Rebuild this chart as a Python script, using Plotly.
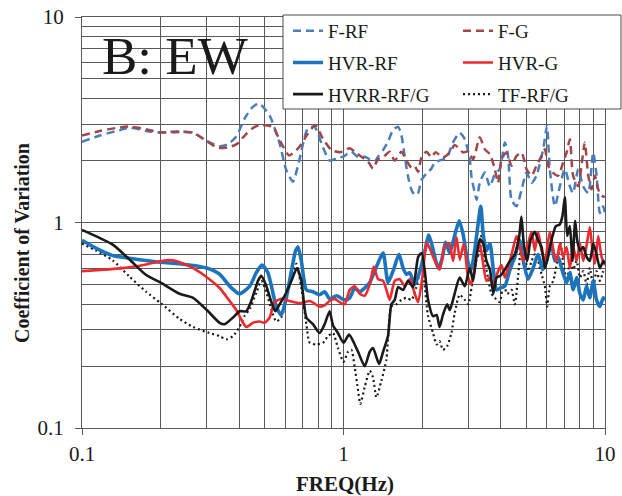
import plotly.graph_objects as go

# ---------------- data ----------------
F_RF_FREQ = [0.1, 0.117, 0.139, 0.152, 0.176, 0.2, 0.236, 0.266, 0.3, 0.336, 0.361, 0.389, 0.419, 0.445, 0.475,
             0.522, 0.57, 0.604, 0.641, 0.677, 0.73, 0.775, 0.834, 0.885, 0.94, 0.996, 1.072, 1.137, 1.205, 1.26,
             1.316, 1.355, 1.417, 1.48, 1.547, 1.617, 1.665, 1.715, 1.766, 1.82, 1.873, 1.928, 1.987, 2.075, 2.17,
             2.23, 2.48, 2.62, 2.78, 2.91, 3.04, 3.09, 3.18, 3.23, 3.32, 3.47, 3.63, 3.79, 3.96, 4.14, 4.26, 4.39,
             4.59, 4.80, 5.01, 5.24, 5.47, 5.80, 6.0, 6.15, 6.43, 6.72, 7.02, 7.34, 7.55, 7.90, 8.25, 8.63, 9.01,
             9.29, 9.56, 9.84, 10.0]
F_RF_CV = [2.47, 2.65, 2.81, 2.90, 2.79, 2.74, 2.78, 2.73, 2.49, 2.35, 2.40, 2.62, 3.21, 3.6, 3.8,
           3.31, 2.42, 1.8, 1.58, 2.0, 2.87, 2.92, 2.33, 2.0, 2.05, 2.09, 2.21, 2.08, 2.09, 2.03,
           1.98, 2.09, 2.25, 2.47, 2.82, 2.92, 2.66, 2.09, 1.67, 1.44, 1.36, 1.39, 1.61, 1.73, 1.83,
           1.96, 2.07, 2.45, 2.73, 2.54, 2.03, 1.65, 1.39, 1.29, 1.56, 1.75, 1.50, 1.72, 1.82, 2.45, 2.11, 1.29,
           1.20, 1.45, 1.75, 1.56, 1.69, 2.27, 2.94, 1.82, 1.20, 1.50, 1.82, 1.50, 1.39, 1.82, 1.50, 1.39, 2.19,
           1.69, 1.11, 1.20, 1.1]

F_G_FREQ = [0.1, 0.117, 0.139, 0.152, 0.176, 0.2, 0.236, 0.266, 0.3, 0.33, 0.361, 0.389, 0.419, 0.445, 0.478,
            0.536, 0.57, 0.62, 0.677, 0.73, 0.78, 0.834, 0.9, 0.97, 1.056, 1.104, 1.171, 1.241, 1.297, 1.355,
            1.417, 1.502, 1.57, 1.665, 1.741, 1.82, 1.873, 1.928, 1.987, 2.075, 2.17, 2.25, 2.40, 2.55, 2.665,
            2.87, 3.0, 3.13, 3.32, 3.47, 3.63, 3.79, 3.90, 4.02, 4.2, 4.39, 4.59, 4.80, 5.01, 5.24, 5.47, 5.72,
            5.89, 6.06, 6.32, 6.62, 6.92, 7.13, 7.34, 7.55, 7.90, 8.13, 8.37, 8.63, 8.89, 9.15, 9.42, 9.70, 10.0]
F_G_CV = [2.65, 2.79, 2.9, 2.93, 2.84, 2.74, 2.76, 2.74, 2.49, 2.31, 2.32, 2.4, 2.65, 2.85, 2.98,
          2.92, 2.52, 2.12, 2.33, 2.7, 2.98, 2.56, 2.25, 2.2, 2.3, 2.21, 2.09, 1.98, 1.83, 2.03,
          2.08, 2.21, 2.0, 2.21, 2.0, 1.85, 1.88, 1.76, 2.08, 2.21, 2.08, 2.2, 2.07, 2.19, 2.38,
          2.19, 2.22, 2.03, 2.60, 2.27, 2.15, 1.82, 1.56, 2.03, 2.19, 1.89, 2.11, 2.19, 1.82, 1.69, 1.89, 2.11,
          2.27, 1.89, 1.75, 1.69, 1.96, 2.19, 2.54, 1.69, 1.50, 1.89, 2.45, 1.69, 1.45, 1.69, 1.45, 1.35, 1.33]

HVR_RF_FREQ = [0.1, 0.113, 0.131, 0.152, 0.2, 0.236, 0.3, 0.336, 0.367, 0.4, 0.438, 0.464, 0.488, 0.514, 0.537,
               0.553, 0.578, 0.604, 0.632, 0.656, 0.67, 0.69, 0.721, 0.764, 0.81, 0.847, 0.885, 0.94, 1.01, 1.056,
               1.104, 1.153, 1.205, 1.26, 1.316, 1.417, 1.48, 1.547, 1.63, 1.69, 1.741, 1.79, 1.873, 1.96, 2.05,
               2.12, 2.20, 2.30, 2.37, 2.46, 2.55, 2.665, 2.77, 2.87, 2.95, 3.06, 3.13, 3.22, 3.35, 3.42, 3.52,
               3.63, 3.74, 3.85, 3.98, 4.14, 4.33, 4.52, 4.72, 4.87, 5.08, 5.31, 5.55, 5.77, 5.98, 6.24, 6.43,
               6.62, 6.82, 7.13, 7.34, 7.56, 7.79, 8.02, 8.26, 8.50, 8.75, 9.02, 9.28, 9.56, 9.85, 10.0]
HVR_RF_CV = [0.82, 0.75, 0.69, 0.67, 0.64, 0.63, 0.60, 0.56, 0.49, 0.45, 0.49, 0.57, 0.62, 0.57, 0.455,
             0.39, 0.355, 0.43, 0.58, 0.73, 0.76, 0.65, 0.47, 0.46, 0.445, 0.46, 0.425, 0.44, 0.42, 0.43,
             0.48, 0.46, 0.48, 0.51, 0.58, 0.71, 0.51, 0.58, 0.70, 0.60, 0.56, 0.57, 0.50, 0.58, 0.73,
             0.87, 0.74, 0.60, 0.65, 0.80, 0.71, 0.87, 1.02, 0.87, 0.70, 0.58, 0.65, 0.84, 1.2, 0.88, 0.73,
             0.79, 0.59, 0.47, 0.48, 0.49, 0.59, 0.68, 0.82, 0.65, 0.53, 0.60, 0.70, 0.59, 0.65, 0.79, 0.65,
             0.68, 0.60, 0.51, 0.57, 0.47, 0.54, 0.45, 0.42, 0.49, 0.43, 0.52, 0.42, 0.39, 0.43, 0.42]

HVR_G_FREQ = [0.1, 0.143, 0.176, 0.21, 0.229, 0.266, 0.307, 0.336, 0.367, 0.389, 0.413, 0.425, 0.451, 0.478,
              0.499, 0.522, 0.545, 0.578, 0.622, 0.679, 0.743, 0.81, 0.847, 0.885, 0.925, 0.967, 1.01, 1.056,
              1.104, 1.153, 1.205, 1.26, 1.305, 1.356, 1.417, 1.459, 1.502, 1.57, 1.641, 1.715, 1.792, 1.873,
              1.929, 2.016, 2.075, 2.137, 2.234, 2.334, 2.44, 2.535, 2.626, 2.704, 2.785, 2.884, 2.997, 3.086,
              3.22, 3.32, 3.42, 3.52, 3.63, 3.74, 3.90, 4.02, 4.14, 4.26, 4.43, 4.59, 4.72, 4.87, 5.04, 5.24,
              5.39, 5.55, 5.72, 5.89, 6.15, 6.34, 6.53, 6.72, 6.92, 7.13, 7.34, 7.56, 7.79, 8.02, 8.26, 8.50,
              8.75, 8.96, 9.15, 9.42, 9.70, 10.0]
HVR_G_CV = [0.58, 0.60, 0.625, 0.655, 0.65, 0.60, 0.53, 0.48, 0.415, 0.375, 0.325, 0.31, 0.325, 0.33,
            0.325, 0.345, 0.41, 0.425, 0.415, 0.405, 0.415, 0.39, 0.395, 0.415, 0.425, 0.41, 0.40, 0.47,
            0.49, 0.45, 0.44, 0.50, 0.61, 0.53, 0.52, 0.47, 0.42, 0.52, 0.53, 0.49, 0.53, 0.45,
            0.41, 0.58, 0.80, 0.75, 0.65, 0.59, 0.77, 0.79, 0.65, 0.85, 0.66, 0.79, 0.54, 0.50,
            0.68, 0.79, 0.63, 0.52, 0.54, 0.49, 0.58, 0.62, 0.54, 0.60, 0.73, 0.86, 0.76, 0.65, 0.76, 0.9,
            0.73, 0.9, 0.73, 0.65, 0.9, 0.73, 0.65, 0.79, 0.68, 0.76, 0.60, 0.76, 0.65, 0.79, 0.65, 0.77,
            0.95, 0.73, 0.63, 0.86, 0.68, 0.62]

HVRR_FREQ = [0.1, 0.131, 0.152, 0.176, 0.2, 0.236, 0.266, 0.3, 0.336, 0.351, 0.378, 0.4, 0.425, 0.444, 0.471,
             0.485, 0.507, 0.53, 0.549, 0.57, 0.604, 0.632, 0.664, 0.69, 0.721, 0.764, 0.81, 0.847, 0.885,
             0.912, 0.952, 1.0, 1.05, 1.088, 1.137, 1.205, 1.26, 1.297, 1.368, 1.417, 1.48, 1.524, 1.57, 1.617,
             1.69, 1.766, 1.845, 1.93, 1.99, 2.046, 2.106, 2.20, 2.27, 2.33, 2.40, 2.49, 2.55, 2.66, 2.78, 2.91,
             3.04, 3.13, 3.22, 3.32, 3.42, 3.52, 3.63, 3.74, 3.85, 3.98, 4.14, 4.33, 4.52, 4.70, 4.79, 4.89,
             5.04, 5.19, 5.39, 5.55, 5.72, 5.89, 6.12, 6.30, 6.49, 6.72, 6.88, 7.02, 7.17, 7.34, 7.51, 7.69,
             7.83, 8.02, 8.26, 8.50, 8.75, 9.02, 9.28, 9.56, 9.85, 10.0]
HVRR_CV = [0.92, 0.78, 0.66, 0.555, 0.51, 0.45, 0.43, 0.375, 0.325, 0.32, 0.345, 0.37, 0.37, 0.415, 0.52,
           0.55, 0.49, 0.41, 0.37, 0.40, 0.455, 0.52, 0.60, 0.52, 0.345, 0.32, 0.29, 0.32, 0.37,
           0.315, 0.29, 0.26, 0.285, 0.265, 0.235, 0.2, 0.235, 0.245, 0.205, 0.235, 0.28, 0.40, 0.42, 0.485,
           0.47, 0.52, 0.485, 0.68, 0.71, 0.58, 0.42, 0.35, 0.355, 0.31, 0.355, 0.40, 0.375, 0.45, 0.54, 0.49,
           0.60, 0.52, 0.68, 0.83, 0.79, 0.65, 0.59, 0.45, 0.54, 0.55, 0.59, 0.65, 0.70, 0.86, 1.07, 0.79,
           0.65, 0.82, 0.9, 0.82, 0.76, 0.60, 0.73, 0.86, 0.96, 0.98, 1.08, 1.33, 0.86, 0.96, 0.65, 1.02,
           0.82, 0.73, 0.76, 0.68, 0.65, 0.79, 0.70, 0.60, 0.65, 0.63]

TF_FREQ = [0.1, 0.113, 0.131, 0.152, 0.176, 0.2, 0.236, 0.266, 0.307, 0.336, 0.356, 0.378, 0.4, 0.418, 0.438,
           0.464, 0.485, 0.507, 0.53, 0.553, 0.578, 0.604, 0.632, 0.66, 0.69, 0.721, 0.743, 0.788, 0.835, 0.873,
           0.912, 0.952, 1.0, 1.041, 1.072, 1.104, 1.137, 1.16, 1.205, 1.26, 1.297, 1.336, 1.396, 1.459, 1.524,
           1.593, 1.665, 1.741, 1.819, 1.90, 1.99, 2.046, 2.106, 2.20, 2.27, 2.33, 2.40, 2.49, 2.587, 2.66,
           2.78, 2.91, 3.0, 3.09, 3.22, 3.32, 3.40, 3.47, 3.57, 3.68, 3.79, 3.96, 4.08, 4.23, 4.39, 4.52,
           4.66, 4.79, 4.94, 5.08, 5.24, 5.39, 5.55, 5.72, 5.89, 6.01, 6.15, 6.34, 6.57, 6.76, 6.96, 7.17,
           7.34, 7.56, 7.79, 8.02, 8.26, 8.50, 8.75, 9.02, 9.28, 9.56, 9.85]
TF_CV = [0.79, 0.73, 0.655, 0.545, 0.46, 0.405, 0.34, 0.31, 0.29, 0.28, 0.27, 0.28, 0.31, 0.35, 0.38,
         0.455, 0.52, 0.46, 0.375, 0.33, 0.345, 0.415, 0.54, 0.63, 0.48, 0.32, 0.26, 0.255, 0.26, 0.28,
         0.29, 0.245, 0.21, 0.235, 0.24, 0.197, 0.152, 0.131, 0.158, 0.19, 0.176, 0.141, 0.17, 0.215, 0.39,
         0.40, 0.42, 0.43, 0.42, 0.485, 0.62, 0.485, 0.35, 0.29, 0.255, 0.265, 0.24, 0.25, 0.29, 0.36,
         0.445, 0.42, 0.40, 0.485, 0.65, 0.73, 0.96, 0.65, 0.54, 0.45, 0.43, 0.41, 0.50, 0.45, 0.47, 0.40,
         0.56, 0.76, 0.68, 0.58, 0.65, 0.70, 0.65, 0.56, 0.49, 0.39, 0.49, 0.52, 0.65, 0.79, 0.60, 0.52,
         0.65, 0.59, 0.65, 0.54, 0.58, 0.50, 0.60, 0.49, 0.58, 0.52, 0.58]

X_TICKS = [0.1, 1, 10]
X_TICK_TEXT = ["0.1", "1", "10"]
Y_TICKS = [0.1, 1, 10]
Y_TICK_TEXT = ["0.1", "1", "10"]
MINOR_VALS = [0.2, 0.3, 0.4, 0.5, 0.6, 0.7, 0.8, 0.9, 2, 3, 4, 5, 6, 7, 8, 9]

# ---------------- figure ----------------
FONT = "Liberation Serif, Times New Roman, serif"
GRID = "#5a5a5a"
TXT = "#1a1a1a"

series = [
    ("F-RF", F_RF_FREQ, F_RF_CV, dict(color="#4A7EBB", width=2.5, dash="8px,5px"), "legend"),
    ("F-G", F_G_FREQ, F_G_CV, dict(color="#A0474A", width=2.5, dash="8px,5px"), "legend2"),
    ("HVR-RF", HVR_RF_FREQ, HVR_RF_CV, dict(color="#1C75BC", width=3.6), "legend3"),
    ("HVR-G", HVR_G_FREQ, HVR_G_CV, dict(color="#EE2A2E", width=2.6), "legend4"),
    ("HVRR-RF/G", HVRR_FREQ, HVRR_CV, dict(color="#1A1A1A", width=2.6), "legend5"),
    ("TF-RF/G", TF_FREQ, TF_CV, dict(color="#1A1A1A", width=2.2, dash="2px,3px"), "legend6"),
]

# drawing order: dashed first, then TF, HVR-RF, HVR-G, HVRR
draw_order = [0, 1, 5, 2, 3, 4]

fig = go.Figure()
for i in draw_order:
    name, fx, fy, line, lg = series[i]
    fig.add_trace(go.Scatter(x=fx, y=fy, mode="lines", name=name,
                             line=dict(shape="spline", smoothing=0.6, **line),
                             legend=lg, showlegend=True))

# The page body margin is removed (post_script below), so figure pixels = window pixels.
W, H = 622, 496
ML, MR, MT, MB = 82, 17, 17, 68
PW, PH = W - ML - MR, H - MT - MB


def px_x(p):
    """window x pixel -> paper fraction"""
    return (p - ML) / PW


def px_y(p):
    """window y pixel -> paper fraction"""
    return (H - MB - p) / PH


legend_common = dict(bgcolor="rgba(0,0,0,0)", borderwidth=0, font=dict(family=FONT, size=19, color=TXT),
                     xanchor="left", yanchor="middle", itemwidth=30, orientation="v")
col_x = [288, 458]
row_y = [31, 62.7, 94.3]
legend_pos = {
    "legend": (col_x[0], row_y[0]), "legend2": (col_x[1], row_y[0]),
    "legend3": (col_x[0], row_y[1]), "legend4": (col_x[1], row_y[1]),
    "legend5": (col_x[0], row_y[2]), "legend6": (col_x[1], row_y[2]),
}
for key, (lx, ly) in legend_pos.items():
    fig.layout[key] = dict(x=px_x(lx), y=px_y(ly), **legend_common)

axis_common = dict(
    type="log", range=[-1, 1], automargin=False, ticklabeloverflow="allow",
    showgrid=True, gridcolor=GRID, gridwidth=1, zeroline=False,
    showline=True, linecolor=GRID, linewidth=1, mirror=True,
    ticks="outside", ticklen=6, tickcolor=GRID, tickwidth=1,
    tickfont=dict(family=FONT, size=21, color=TXT),
    minor=dict(tickmode="array", tickvals=MINOR_VALS, showgrid=True, gridcolor=GRID, gridwidth=1, ticks=""),
)

fig.update_layout(
    width=W, height=H,
    margin=dict(l=ML, r=MR, t=MT, b=MB, pad=0, autoexpand=False),
    paper_bgcolor="white", plot_bgcolor="white",
    font=dict(family=FONT, color=TXT),
    xaxis=dict(tickmode="array", tickvals=X_TICKS, ticktext=X_TICK_TEXT, ticklabelstandoff=1, **axis_common),
    yaxis=dict(tickmode="array", tickvals=Y_TICKS, ticktext=Y_TICK_TEXT, ticklabelstandoff=7, **axis_common),
    shapes=[dict(type="rect", xref="paper", yref="paper",
                 x0=px_x(283), x1=px_x(621), y0=px_y(109), y1=px_y(15),
                 fillcolor="white", line=dict(color="#4a4a4a", width=1), layer="above")],
    annotations=[
        dict(text="B: EW", xref="paper", yref="paper", x=px_x(99.5), y=px_y(56),
             xanchor="left", yanchor="middle", showarrow=False,
             font=dict(family=FONT, size=53, color=TXT)),
        dict(text="<b>FREQ(Hz)</b>", xref="paper", yref="paper", x=px_x(345), y=px_y(484),
             xanchor="center", yanchor="middle", showarrow=False,
             font=dict(family=FONT, size=21, color=TXT)),
        dict(text="<b>Coefficient of Variation</b>", xref="paper", yref="paper", x=px_x(22), y=px_y(243),
             xanchor="center", yanchor="middle", showarrow=False, textangle=-90,
             font=dict(family=FONT, size=20, color=TXT)),
    ],
)

fig.write_html("out.html", config={"displayModeBar": False},
               post_script="document.body.style.margin='0';")
